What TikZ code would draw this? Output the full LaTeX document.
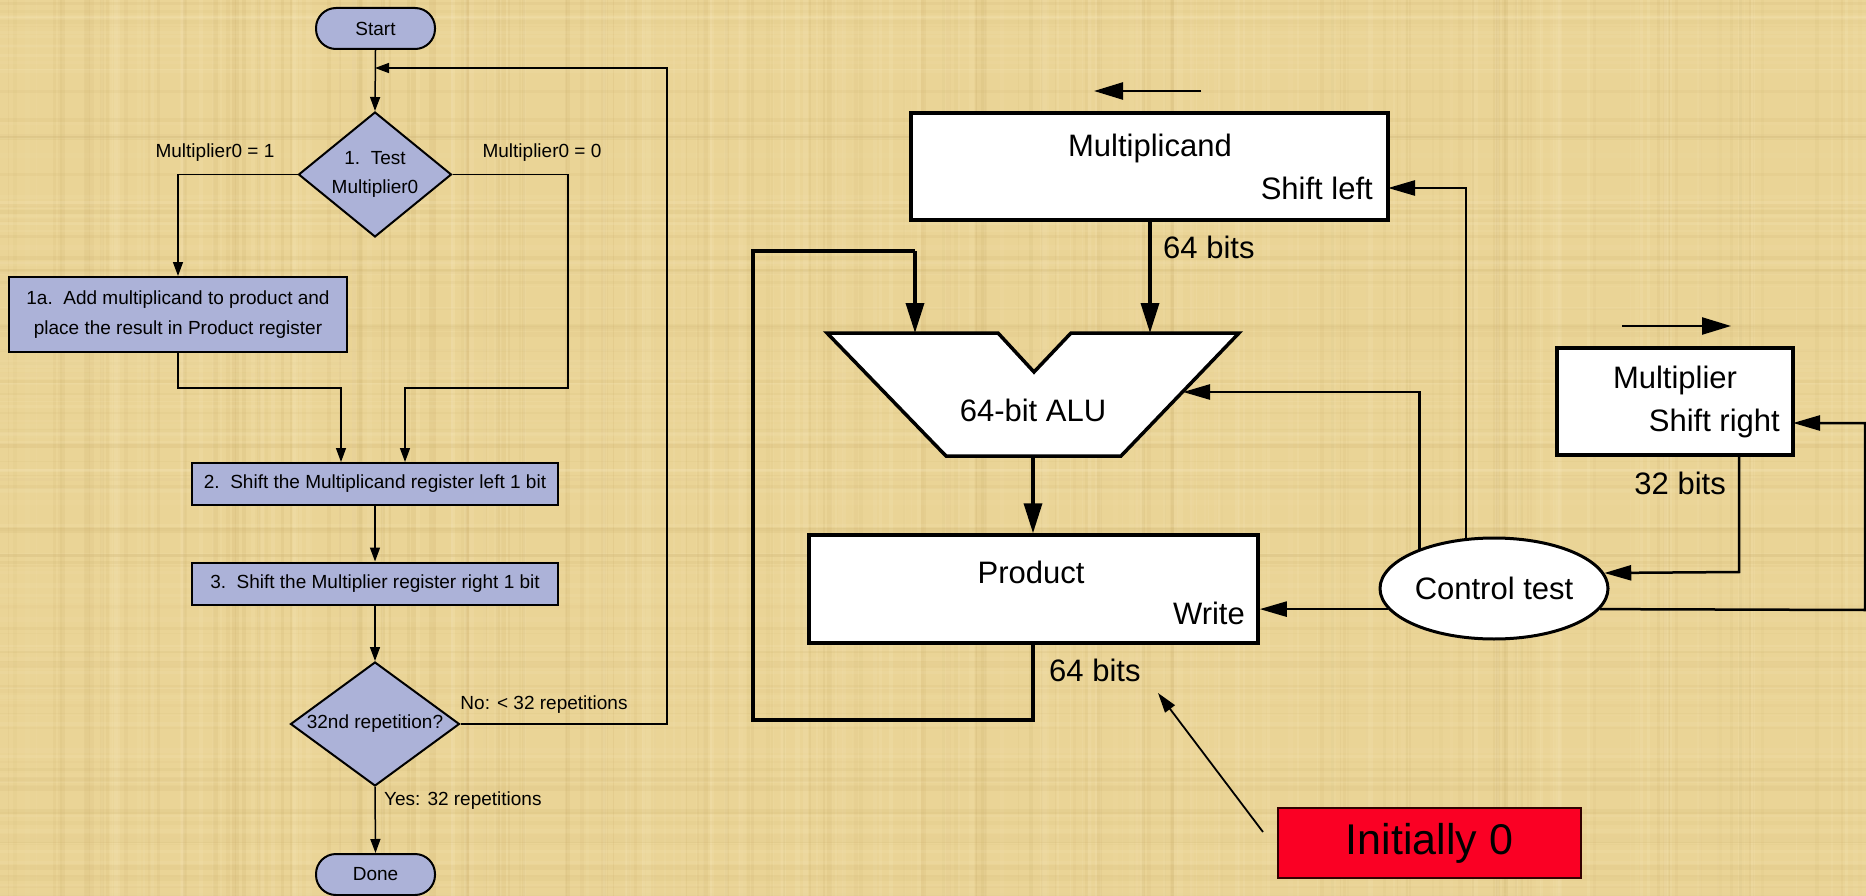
\documentclass[tikz,border=0pt]{standalone}
\usepackage{fontspec}
\setmainfont{Liberation Sans}
\usetikzlibrary{arrows.meta,shapes.geometric}
\definecolor{paper}{RGB}{234,212,150}
\definecolor{lightstreak}{RGB}{250,236,194}
\definecolor{darkstreak}{RGB}{200,172,104}
\definecolor{lav}{RGB}{172,178,216}
\definecolor{initred}{RGB}{250,0,36}
\newcommand\fcf{\fontsize{19}{29.5}\selectfont}
\newcommand\dpf{\fontsize{31}{37}\selectfont}
\newcommand\initf{\fontsize{43}{50}\selectfont}
\begin{document}
\begin{tikzpicture}[x=1pt,y=-1pt,
 fcbox/.style={draw, line width=2pt, fill=lav, font=\fcf, inner sep=0pt, align=center},
 term/.style={fcbox, rounded corners=20pt, minimum width=119pt, minimum height=41pt},
 stepbox/.style={fcbox, minimum width=366pt, minimum height=42pt},
 decide/.style={fcbox, diamond, inner sep=-8pt},
 fcline/.style={line width=1.5pt},
 fcarrow/.style={fcline, -{Triangle[length=14pt,width=10pt]}},
 fclabel/.style={font=\fcf, inner sep=0pt},
 reg/.style={draw, line width=3.5pt, fill=white, inner sep=0pt},
 dptext/.style={font=\dpf, inner sep=0pt},
 bus/.style={line width=3.5pt},
 busarrow/.style={bus, -{Triangle[length=30pt,width=18pt]}},
 ctl/.style={line width=2.5pt},
 ctlarrow/.style={ctl, -{Triangle[length=27pt,width=15pt]}},
]
\useasboundingbox (0,0) rectangle (1866,896);
\fill[paper] (0,0) rectangle (1866,896);
% parchment texture
\pgfmathsetseed{7}
\foreach \i in {1,...,300}{
  \pgfmathsetmacro\xx{rnd*1866}
  \pgfmathsetmacro\ww{1+rnd*4}
  \pgfmathsetmacro\op{0.06+rnd*0.12}
  \pgfmathsetmacro\cc{rnd}
  \ifdim\cc pt<0.55pt \def\tc{lightstreak}\else\def\tc{darkstreak}\fi
  \fill[\tc, opacity=\op] (\xx,0) rectangle ++(\ww,896);
}
\foreach \i in {1,...,160}{
  \pgfmathsetmacro\yy{rnd*896}
  \pgfmathsetmacro\hh{1+rnd*4}
  \pgfmathsetmacro\op{0.05+rnd*0.10}
  \pgfmathsetmacro\cc{rnd}
  \ifdim\cc pt<0.55pt \def\tc{lightstreak}\else\def\tc{darkstreak}\fi
  \fill[\tc, opacity=\op] (0,\yy) rectangle ++(1866,\hh);
}

% ---------------- flowchart ----------------
\node[term] (start) at (375.5,28.5) {Start};
\node[decide, minimum width=153pt, minimum height=125pt] (d1) at (375,174.5) {1.\ \ Test\\Multiplier0};
\node[fcbox, minimum width=338pt, minimum height=75pt, font=\fontsize{19}{30}\selectfont] (add) at (178,314.5)
  {1a.\ \ Add multiplicand to product and\\place the result in Product register};
\node[stepbox] (s2) at (375,484) {2.\ \ Shift the Multiplicand register left 1 bit};
\node[stepbox] (s3) at (375,583.5) {3.\ \ Shift the Multiplier register right 1 bit};
\node[decide, minimum width=169pt, minimum height=124pt, inner sep=-20pt] (d2) at (375,724) {32nd repetition?};
\node[term] (done) at (375.5,874.5) {Done};

\coordinate (loopj) at (375,68);
\coordinate (loopr) at (667,724);
\coordinate (r0) at (568,174.5);
\coordinate (r1) at (568,388);
\coordinate (r2) at (405,388);
\coordinate (l1) at (178,388);
\coordinate (l2) at (341,388);

\draw[fcarrow] (start.south) -- (d1.north);
\draw[fcarrow] (d2.east) -- (loopr) |- (loopj);
\draw[fcarrow] (d1.west) -| (add.north);
\draw[fcarrow] (d1.east) -- (r0) -- (r1) -- (r2) -- (r2 |- s2.north);
\draw[fcarrow] (add.south) -- (l1) -- (l2) -- (l2 |- s2.north);
\draw[fcarrow] (s2.south) -- (s3.north);
\draw[fcarrow] (s3.south) -- (d2.north);
\draw[fcarrow] (d2.south) -- (done.north);

\node[fclabel] (lab1) at (215,153) {Multiplier0 = 1};
\node[fclabel] (lab0) at (542,153) {Multiplier0 = 0};
\node[fclabel] (labno) at (544,705) {No: < 32 repetitions};
\node[fclabel, anchor=west] (labyes) at (384,801) {Yes: 32 repetitions};

% ---------------- datapath ----------------
\node[reg, minimum width=477pt, minimum height=107pt] (mcand) at (1149.5,166.5) {};
\node[dptext] (mcandt) at (1150,148) {Multiplicand};
\node[dptext, anchor=east] (shl) at (1373,188) {Shift left};

\node[reg, minimum width=449pt, minimum height=108pt] (prod) at (1033.5,589) {};
\node[dptext] (prodt) at (1031,572) {Product};
\node[dptext, anchor=east] (wr) at (1245,613) {Write};

\node[reg, minimum width=236pt, minimum height=107pt] (mplier) at (1675,401.5) {};
\node[dptext] (mpliert) at (1675,380) {Multiplier};
\node[dptext, anchor=east] (shr) at (1780,423) {Shift right};

% ALU
\coordinate (a1) at (827,333);
\coordinate (a2) at (998,333);
\coordinate (a3) at (1034,372);
\coordinate (a4) at (1071,333);
\coordinate (a5) at (1239,333);
\coordinate (a6) at (1121,456);
\coordinate (a7) at (946,456);
\fill[white] (a1) -- (a2) -- (a3) -- (a4) -- (a5) -- (a6) -- (a7) -- cycle;
\draw[line width=3.5pt, line join=miter] (a1) -- (a2) -- (a3) -- (a4) -- (a5) -- (a6) -- (a7) -- cycle;
\node[dptext] (alu) at (1033,410) {64-bit ALU};
\coordinate (aluinA) at (915,333);
\coordinate (aluinB) at (1150,333);
\coordinate (aluout) at (1033,456);
\coordinate (aluctl) at (1183,392);

% control
\node[draw, ellipse, line width=3pt, fill=white, minimum width=228pt, minimum height=101pt, font=\dpf, inner sep=0pt] (ctrl) at (1494,588.5) {Control test};

% shift arrows
\coordinate (sla) at (1201,91);
\coordinate (slb) at (1094,91);
\draw[ctl, -{Triangle[length=29pt,width=17pt]}] (sla) -- (slb);
\coordinate (sra) at (1622,326);
\coordinate (srb) at (1731,326);
\draw[ctl, -{Triangle[length=29pt,width=17pt]}] (sra) -- (srb);

% buses
\draw[busarrow] (mcand.south -| aluinB) -- (aluinB);
\node[dptext, anchor=west] (b64a) at (1163,247) {64 bits};
\coordinate (lp1) at (1033,720);
\coordinate (lp2) at (753,720);
\coordinate (lp3) at (753,251);
\coordinate (lp4) at (915,251);
\draw[bus, line join=miter] (prod.south -| lp1) -- (lp1) -- (lp2) -- (lp3) -- (lp4);
\draw[busarrow] (lp4) -- (aluinA);
\draw[busarrow] (aluout) -- (aluout |- prod.north);
\node[dptext, anchor=west] (b64b) at (1049,670) {64 bits};

% control lines
\coordinate (shlin) at (1388,188);
\coordinate (shrin) at (1793,423);
\coordinate (rr1) at (1865,610);
\coordinate (rr2) at (1865,423);
\coordinate (m32) at (1739,572);
\draw[ctlarrow] (ctrl.152.6) |- (aluctl);
\draw[ctlarrow] (ctrl.119.8) |- (shlin);
\draw[ctlarrow] (ctrl.191.8) -- (ctrl.191.8 -| prod.east);
\draw[ctlarrow] (ctrl.-11.8) -- (rr1) -- (rr2) -- (shrin);
\draw[ctlarrow] (mplier.south -| m32) -- (m32) -- (ctrl.8.7);
\node[dptext, anchor=east] (b32) at (1726,483) {32 bits};

% initially 0
\node[draw=black!80!red, line width=2pt, fill=initred, minimum width=303pt, minimum height=70pt, font=\initf, inner sep=0pt] (init) at (1429.5,843) {Initially 0};
\coordinate (ia) at (1263,832);
\coordinate (ib) at (1158,693);
\draw[line width=1.8pt, -{Triangle[length=20pt,width=12pt]}] (ia) -- (ib);
\end{tikzpicture}
\end{document}
